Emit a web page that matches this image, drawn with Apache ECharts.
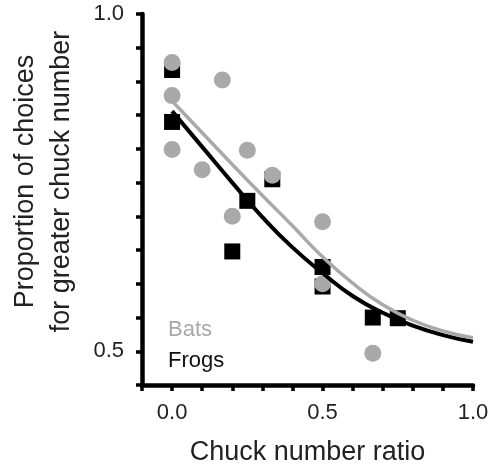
<!DOCTYPE html>
<html lang="en">
<head>
    <meta charset="UTF-8">
    <title>Chuck number ratio</title>
    <script type="text/javascript" src="https://cdn.jsdelivr.net/npm/echarts@6/dist/echarts.min.js"></script>
    <style>
        html, body { margin: 0; padding: 0; background: #fff; }
        #main { width: 493px; height: 471px; }
    </style>
</head>
<body>
<div id="main"></div>
<script type="text/javascript">

    // raw points: [ratio, proportion]
    var batsPoints = [
        [0, 0.928], [0, 0.879], [0, 0.799], [0.1, 0.769], [0.167, 0.902],
        [0.2, 0.700], [0.25, 0.798], [0.333, 0.761], [0.5, 0.692], [0.5, 0.600],
        [0.667, 0.497]
    ];
    var frogsPoints = [
        [0, 0.917], [0, 0.840], [0.2, 0.648], [0.25, 0.723], [0.333, 0.755],
        [0.5, 0.625], [0.5, 0.596], [0.667, 0.550], [0.75, 0.549]
    ];

    // fitted curves, read at each 0.1 step
    var fitX = [0, 0.1, 0.2, 0.3, 0.4, 0.5, 0.6, 0.7, 0.8, 0.9, 1.0];
    var batsFit = [0.871, 0.824, 0.777, 0.731, 0.686, 0.640, 0.601, 0.569, 0.546, 0.530, 0.520];
    var frogsFit = [0.856, 0.803, 0.750, 0.699, 0.654, 0.616, 0.582, 0.557, 0.538, 0.524, 0.514];

    var xTickLabels = ['0.0', '0.5', '1.0'];
    var yTickLabels = ['0.5', '1.0'];

    var legendNames = ['Bats', 'Frogs'];

    function pairs(xs, ys) {
        let out = [];
        for (let i = 0; i < xs.length; i++) {
            out.push([xs[i], ys[i]]);
        }
        return out;
    }

    function pickLabel(list, v) {
        for (let i = 0; i < list.length; i++) {
            if (Math.abs(parseFloat(list[i]) - v) < 1e-6) return list[i];
        }
        return '';
    }

    var font = "'Liberation Sans', Arial, sans-serif";
    var grey = '#a9a9a9';

    var myChart = echarts.init(document.getElementById('main'));
    var option = {
        animation: false,
        textStyle: { fontFamily: font },
        grid: { left: 136.5, right: 20, top: 14, bottom: 82 },
        legend: {
            left: 158,
            top: 314,
            orient: 'vertical',
            itemWidth: 0,
            itemHeight: 0,
            itemGap: 9,
            selectedMode: false,
            textStyle: { fontSize: 22, lineHeight: 22, fontFamily: font },
            data: [
                { name: legendNames[0], icon: 'none', textStyle: { color: grey } },
                { name: legendNames[1], icon: 'none', textStyle: { color: '#111' } }
            ]
        },
        xAxis: {
            type: 'value',
            min: -0.1,
            max: 1.0,
            interval: 0.1,
            splitLine: { show: false },
            axisLine: { show: true, onZero: false, lineStyle: { color: '#000', width: 4.5 } },
            axisTick: { show: true, length: 6, lineStyle: { color: '#000', width: 3.5 } },
            axisLabel: {
                margin: 17,
                fontSize: 22,
                color: '#222',
                formatter: function (v) { return pickLabel(xTickLabels, v); }
            },
            name: 'Chuck number ratio',
            nameLocation: 'middle',
            nameGap: 54,
            nameTextStyle: { fontSize: 27, color: '#222' }
        },
        yAxis: {
            type: 'value',
            min: 0.45,
            max: 1.0,
            interval: 0.05,
            splitLine: { show: false },
            axisLine: { show: true, onZero: false, lineStyle: { color: '#000', width: 4.5 } },
            axisTick: { show: true, length: 6, lineStyle: { color: '#000', width: 3.5 } },
            axisLabel: {
                margin: 18,
                fontSize: 22,
                color: '#222',
                formatter: function (v) { return pickLabel(yTickLabels, v); }
            },
            name: 'Proportion of choices\nfor greater chuck number',
            nameLocation: 'middle',
            nameGap: 62,
            nameTextStyle: { fontSize: 27, lineHeight: 36, color: '#222', padding: [0, 0, 0, 36] }
        },
        series: [
            {
                name: 'Frogs',
                type: 'scatter',
                symbol: 'rect',
                symbolSize: 16,
                itemStyle: { color: '#000', opacity: 1 },
                data: frogsPoints,
                z: 2
            },
            {
                name: 'Bats',
                type: 'scatter',
                symbol: 'circle',
                symbolSize: 17,
                itemStyle: { color: grey, opacity: 1 },
                data: batsPoints,
                z: 3
            },
            {
                name: 'Frogs fit',
                type: 'line',
                smooth: true,
                showSymbol: false,
                lineStyle: { color: '#000', width: 4 },
                data: pairs(fitX, frogsFit),
                z: 4
            },
            {
                name: 'Bats fit',
                type: 'line',
                smooth: true,
                showSymbol: false,
                lineStyle: { color: grey, width: 3.5 },
                data: pairs(fitX, batsFit),
                z: 5
            }
        ]
    };
    myChart.setOption(option);

</script>
</body>
</html>
